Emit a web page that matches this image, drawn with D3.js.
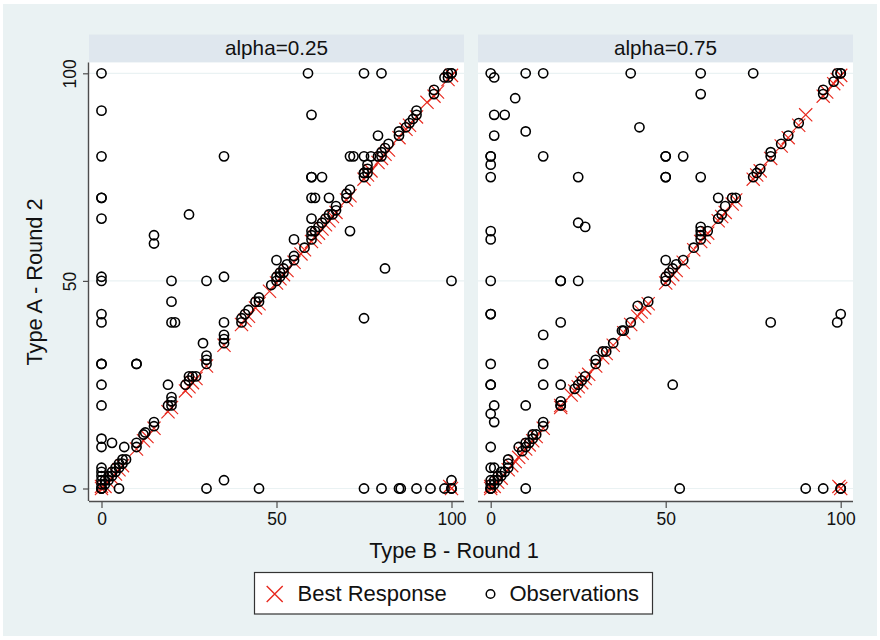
<!DOCTYPE html>
<html>
<head>
<meta charset="utf-8">
<script src="https://cdn.jsdelivr.net/npm/d3@7"></script>
<style>
  html, body { margin: 0; padding: 0; background: #ffffff; }
  svg { display: block; font-family: "Liberation Sans", Arial, Helvetica, sans-serif; }
</style>
</head>
<body>
<svg id="chart" width="880" height="640"></svg>
<script>
// Panel titles and axis ticks
const panelTitles = ["alpha=0.25", "alpha=0.75"];
const axisTicks = [0, 50, 100];
const xTitle = "Type B - Round 1";
const yTitle = "Type A - Round 2";
const legendLabels = ["Best Response", "Observations"];

// alpha = 0.25 : observed [Round 1 of B, Round 2 of A]
const obsLow = [
  [0,100],[0,91],[0,80],[0,70],[0,70],[0,65],[25,66],[15,61],[15,59],[35,80],
  [59,100],[75,100],[80,100],[60,90],[79,85],[71,80],[72,80],[75,80],[77,80],
  [60,75],[60,75],[63,75],[60,70],[61,70],[65,70],[60,65],[71,62],[55,60],[50,55],
  [81,53],[100,50],[20,50],[30,50],[35,51],[0,51],[0,50],[20,45],[20,40],[21,40],
  [0,42],[0,40],[35,40],[75,41],[29,35],[0,30],[0,30],[10,30],[10,30],[0,25],[19,25],
  [0,20],[0,12],[0,10],[3,11],[6.5,10],[5,0],[30,0],[35,2],[45,0],[75,0],[80,0],
  [85,0],[85.5,0],[90,0],[94,0],[98,0],[100,0],[100,0],[100,2],
  [0,0],[0,0],[0,0],[0,1],[0,2],[0,3],[0,4],[0,5],[1,1],[1,2],[2,2],[2,3],[3,3],
  [3,4],[4,4],[4,5],[5,5],[5,6],[6,6],[6,7],[7,7],[10,10],[10,11],[12,13],[12.5,13.5],
  [15,15],[15,16],[19,20],[20,20],[20,21],[20,22],[24,25],[25,26],[25,27],[26,27],
  [27,27],[30,30],[30,31],[30,32],[35,35],[35,36],[35,37],[40,40],[40,41],[41,42],
  [42,43],[44,45],[45,46],[45,45],[48.5,49],[50,50],[50,51],[51,51],[51,52],[52,52],
  [52,53],[53,54],[55,55],[55,56],[58,58],[60,60],[60,61],[60,62],[61,62],[62,63],
  [63,64],[64,65],[65,66],[66,66],[67,67],[67,68],[70,70],[70,71],[71,72],[75,75],
  [75,76],[75,76],[76,76],[76,77],[76,78],[79,80],[80,80],[80,81],[81,82],[82,83],
  [85,85],[85,86],[87,87],[88,88],[89,89],[90,90],[90,91],[95,95],[95,96],[98,99],
  [99,99],[99,100],[100,100],[100,100]
];

// alpha = 0.25 : best response to each Round 1 choice
const brLow = [
  [0,0],[0,0.5],[1,0.5],[2,1.5],[3,2.5],[4,3.5],[5,4.5],[6,5.5],[10,9.5],[12,11.5],
  [13,12.5],[15,14.5],[19,18.5],[20,19.5],[24,23.5],[25,24.5],[26,25.5],[27,26.5],
  [30,29.5],[35,34.5],[40,39.5],[41,40.5],[42,41.5],[44,43.5],[45,44.5],[48,47.5],
  [50,49.5],[51,50.5],[52,51.5],[53,52.5],[55,54.5],[57,56.5],[58,57.5],[60,59.5],
  [61,60.5],[62,61.5],[63,62.5],[64,63.5],[65,64.5],[66,65.5],[67,66.5],[70,69.5],
  [71,70.5],[75,74.5],[76,75.5],[77,76.5],[79,78.5],[80,79.5],[81,80.5],[82,81.5],
  [85,84.5],[87,86.5],[88,87.5],[90,89.5],[93,93],[95,94.5],[96,95.5],[99,98.5],
  [100,99.5],[100,0],[99.5,0.5]
];

// alpha = 0.75 : observed [Round 1 of B, Round 2 of A]
const obsHigh = [
  [0,100],[1,99],[10,100],[15,100],[40,100],[60,100],[75,100],[60,95],[7,94],[1,90],
  [4,90],[1,85],[10,86],[42.5,87],[0,80],[0,80],[0,78],[0,75],[15,80],[25,75],
  [50,80],[50,80],[55,80],[50,75],[50,75],[60,75],[25,64],[27,63],[0,62],[0,60],
  [50,55],[65,70],[0,50],[20,50],[20,50],[25,50],[0,42],[0,42],[20,40],[15,37],
  [0,30],[15,30],[0,25],[0,25],[15,25],[20,25],[52,25],[1,20],[10,20],[0,18],[1,16],
  [0,10],[0,5],[1,5],[10,0],[54,0],[90,0],[95,0],[100,0],[100,0],[80,40],[99,40],[100,42],
  [0,0],[0,0],[0,0],[0,1],[0,2],[1,1],[1,2],[2,2],[2,3],[3,3],[3,4],[4,4],[5,5],
  [5,6],[5,7],[8,10],[9,9],[10,10],[10,11],[11,11],[12,12],[12,13],[13,13],[15,15],
  [15,16],[20,20],[20,20],[20,21],[24,24],[25,25],[26,26],[27,27],[30,30],[30,31],
  [32,33],[33,33],[35,35],[37.5,38],[38,38],[40,40],[42,44],[45,45],[50,50],[50,51],
  [51,52],[52,53],[53,54],[55,55],[58,58],[60,60],[60,61],[60,62],[60,63],[62,62],
  [65,65],[66,66],[67,68],[69,70],[70,70],[75,75],[76,76],[77,77],[80,80],[80,81],
  [83,83],[85,85],[88,88],[95,95],[95,96],[98,98],[99,100],[100,100],[100,100]
];

// alpha = 0.75 : best response to each Round 1 choice
const brHigh = [
  [0,0],[0,0.5],[1,0.5],[2,1.5],[3,2.5],[5,4.5],[6,5.5],[7,6.5],[8,7.5],[9,8.5],
  [10,9.5],[11,10.5],[12,11.5],[13,12.5],[15,14.5],[20,19.5],[20,20],[23,22.5],
  [24,23.5],[25,24.5],[26,25.5],[27,26.5],[28,27.5],[30,29.5],[32,31.5],[33,32.5],
  [35,34.5],[38,37.5],[40,39.5],[42,41.5],[43,42.5],[44,43.5],[45,44.5],[50,49.5],
  [51,50.5],[52,51.5],[53,52.5],[55,54.5],[58,57.5],[60,59.5],[61,60.5],[62,61.5],
  [65,64.5],[66,65.5],[67,66.5],[69,68.5],[70,69.5],[75,74.5],[76,75.5],[77,76.5],
  [80,79.5],[83,82.5],[85,84.5],[88,87.5],[90,90],[95,94.5],[96,95.5],[98,97.5],
  [99,98.5],[100,99.5],[100,0],[99.5,0.5]
];

const panels = [
  { title: panelTitles[0], obs: obsLow, br: brLow },
  { title: panelTitles[1], obs: obsHigh, br: brHigh }
];

const W = 880, H = 640;
const bgColor = "#eaf2f3";
const stripColor = "#dfe7ee";
const axisColor = "#4d4d4d";
const redColor = "#e8281d";
const textColor = "#111111";

const svg = d3.select("#chart");

// graph region
svg.append("rect").attr("x", 0).attr("y", 0).attr("width", W).attr("height", H).attr("fill", "#ffffff");
svg.append("rect").attr("x", 3).attr("y", 4).attr("width", W - 6).attr("height", H - 8).attr("fill", bgColor);

// panel geometry
const panelLeft = [89, 478];
const panelWidth = 375;
const plotTop = 62.5, plotBottom = 501, stripTop = 34.5;

const y = d3.scaleLinear().domain([0, 100]).range([488.5, 73.3]);

function xScaleFor(i) {
  const off = i * 389.2;
  return d3.scaleLinear().domain([0, 100]).range([101.5 + off, 451.5 + off]);
}

const xHalf = 6.6; // half-size of the X marker
function crossPath(cx, cy, s) {
  return `M${cx - s},${cy - s}L${cx + s},${cy + s}M${cx - s},${cy + s}L${cx + s},${cy - s}`;
}

panels.forEach((p, i) => {
  const x = xScaleFor(i);
  const left = panelLeft[i];
  const g = svg.append("g");

  // strip header
  g.append("rect").attr("x", left).attr("y", stripTop)
    .attr("width", panelWidth).attr("height", plotTop - stripTop).attr("fill", stripColor);
  g.append("text").attr("x", left + panelWidth / 2).attr("y", 55)
    .attr("text-anchor", "middle").attr("font-size", 20.7).attr("fill", textColor)
    .text(p.title);

  // plot region
  g.append("rect").attr("x", left).attr("y", plotTop)
    .attr("width", panelWidth).attr("height", plotBottom - plotTop).attr("fill", "#ffffff");

  // horizontal grid
  g.selectAll("line.grid").data(axisTicks).join("line")
    .attr("class", "grid")
    .attr("x1", left).attr("x2", left + panelWidth)
    .attr("y1", d => y(d)).attr("y2", d => y(d))
    .attr("stroke", bgColor).attr("stroke-width", 1.2);

  // best responses
  const clipId = "clip" + i;
  svg.append("clipPath").attr("id", clipId).append("rect")
    .attr("x", left).attr("y", plotTop).attr("width", panelWidth).attr("height", plotBottom - plotTop);
  const marks = g.append("g").attr("clip-path", `url(#${clipId})`);

  marks.selectAll("path.br").data(p.br).join("path")
    .attr("class", "br")
    .attr("d", d => crossPath(x(d[0]), y(d[1]), xHalf))
    .attr("fill", "none").attr("stroke", redColor).attr("stroke-width", 1.15);

  // observations
  marks.selectAll("circle.obs").data(p.obs).join("circle")
    .attr("class", "obs")
    .attr("cx", d => x(d[0])).attr("cy", d => y(d[1])).attr("r", 4.6)
    .attr("fill", "none").attr("stroke", "#000000").attr("stroke-width", 1.6);

  // x axis
  const xAxis = d3.axisBottom(x).tickValues(axisTicks).tickSize(7).tickPadding(5).tickSizeOuter(0);
  const xa = g.append("g").attr("transform", `translate(0,${plotBottom})`).call(xAxis);
  xa.select(".domain").attr("d", `M${left},0.5H${left + panelWidth}`).attr("stroke", axisColor).attr("stroke-width", 1.4);
  xa.selectAll(".tick line").attr("stroke", axisColor).attr("stroke-width", 1.2);
  xa.selectAll(".tick text").attr("font-size", 17.5).attr("fill", textColor)
    .attr("font-family", "Liberation Sans, Arial, sans-serif");

  // y axis on the first panel only
  if (i === 0) {
    const yAxis = d3.axisLeft(y).tickValues(axisTicks).tickSize(6).tickSizeOuter(0).tickFormat(d3.format("d"));
    const ya = g.append("g").attr("transform", `translate(${left},0)`).call(yAxis);
    ya.select(".domain").attr("d", `M-0.5,${plotTop}V${plotBottom}`).attr("stroke", axisColor).attr("stroke-width", 1.4);
    ya.selectAll(".tick line").attr("stroke", axisColor).attr("stroke-width", 1.2);
    ya.selectAll(".tick text")
      .attr("font-size", 17.5).attr("fill", textColor)
      .attr("font-family", "Liberation Sans, Arial, sans-serif")
      .attr("text-anchor", "middle").attr("dy", null).attr("x", null)
      .attr("transform", "translate(-13.5,0) rotate(-90)");
  }
});

// axis titles
svg.append("text").attr("x", 454).attr("y", 558)
  .attr("text-anchor", "middle").attr("font-size", 21.8).attr("fill", textColor).text(xTitle);
svg.append("text").attr("transform", "translate(42,282) rotate(-90)")
  .attr("text-anchor", "middle").attr("font-size", 21.8).attr("fill", textColor).text(yTitle);

// legend
const lg = svg.append("g");
lg.append("rect").attr("x", 254.5).attr("y", 572.5).attr("width", 398).attr("height", 41.5)
  .attr("fill", "#ffffff").attr("stroke", "#333333").attr("stroke-width", 1.2);
lg.append("path").attr("d", crossPath(274.7, 594, 8))
  .attr("fill", "none").attr("stroke", redColor).attr("stroke-width", 1.4);
lg.append("text").attr("x", 297.5).attr("y", 601).attr("font-size", 22).attr("fill", textColor).text(legendLabels[0]);
lg.append("circle").attr("cx", 490.5).attr("cy", 594).attr("r", 4.3)
  .attr("fill", "none").attr("stroke", "#000000").attr("stroke-width", 1.5);
lg.append("text").attr("x", 509.5).attr("y", 601).attr("font-size", 22).attr("fill", textColor).text(legendLabels[1]);
</script>
</body>
</html>
